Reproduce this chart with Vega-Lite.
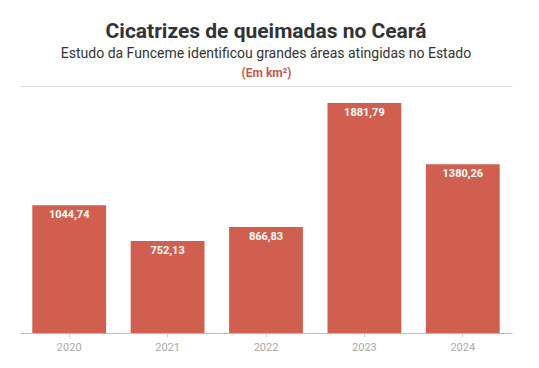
{
  "$schema": "https://vega.github.io/schema/vega-lite/v6.json",
  "autosize": "none",
  "width": 492,
  "height": 247,
  "padding": {"left": 20, "top": 86, "right": 27, "bottom": 35},
  "background": "white",
  "title": {
    "text": "Cicatrizes de queimadas no Ceará",
    "subtitle": "Estudo da Funceme identificou grandes áreas atingidas no Estado",
    "anchor": "middle",
    "frame": "group",
    "font": "Roboto",
    "fontSize": 21,
    "fontWeight": "bold",
    "color": "#333333",
    "subtitleFont": "Roboto",
    "subtitleFontSize": 14,
    "subtitleColor": "#333333",
    "subtitlePadding": 5,
    "offset": 5
  },
  "config": {
    "view": {"stroke": null},
    "locale": {"number": {"decimal": ",", "thousands": ".", "grouping": [3], "currency": ["", ""]}}
  },
  "data": {
    "values": [
      {"ano": "2020", "area": 1044.74},
      {"ano": "2021", "area": 752.13},
      {"ano": "2022", "area": 866.83},
      {"ano": "2023", "area": 1881.79},
      {"ano": "2024", "area": 1380.26}
    ]
  },
  "encoding": {
    "x": {
      "field": "ano",
      "type": "nominal",
      "scale": {"paddingInner": 0.25, "paddingOuter": 0.125},
      "axis": {
        "title": null,
        "labelAngle": 0,
        "labelFont": "Roboto",
        "labelFontSize": 11,
        "labelColor": "#aaaaaa",
        "labelPadding": 4,
        "domainColor": "#bbbbbb",
        "tickColor": "#cccccc",
        "tickSize": 4
      }
    },
    "y": {
      "field": "area",
      "type": "quantitative",
      "scale": {"domain": [0, 2020], "nice": false},
      "axis": {
        "values": [2020],
        "grid": true,
        "gridColor": "#dddddd",
        "domain": false,
        "ticks": false,
        "labels": false,
        "title": "(Em km²)",
        "titleAngle": 0,
        "titleX": 246,
        "titleY": -10,
        "titleAlign": "center",
        "titleBaseline": "alphabetic",
        "titleColor": "#c9574a",
        "titleFont": "Roboto",
        "titleFontSize": 12,
        "titleFontWeight": "bold"
      }
    }
  },
  "layer": [
    {"mark": {"type": "bar", "color": "#d15f4f"}},
    {
      "mark": {"type": "text", "baseline": "top", "dy": 4, "color": "white", "font": "Roboto", "fontSize": 11, "fontWeight": "bold"},
      "encoding": {"text": {"field": "area", "type": "quantitative", "format": ".2f"}}
    }
  ]
}
